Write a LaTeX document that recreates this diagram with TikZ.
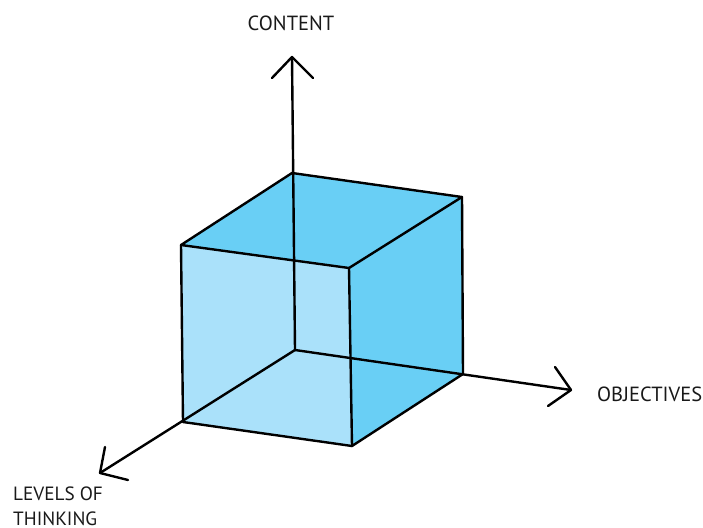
\documentclass[tikz,border=0pt]{standalone}
\usepackage{fontspec}
\setmainfont{PT Sans}
\definecolor{lightface}{HTML}{AAE1FA}
\definecolor{darkface}{HTML}{69CFF5}
\begin{document}
\begin{tikzpicture}[x=1pt,y=-1pt,
  edge/.style={line width=2.4pt,line cap=round,line join=round,black},
  lbl/.style={font=\fontsize{20.5}{29}\selectfont,inner sep=0pt,text=black!90},
  lblsmall/.style={font=\fontsize{19.2}{24.6}\selectfont,inner sep=0pt,text=black!90}]
\useasboundingbox (0,0) rectangle (703,527);
% cube vertices
\coordinate (ftl) at (181,245);
\coordinate (ftr) at (349,268);
\coordinate (fbr) at (352,446);
\coordinate (fbl) at (183,422);
\coordinate (btl) at (292,173);
\coordinate (btr) at (462,197);
\coordinate (bbr) at (463,374);
\coordinate (o) at (295,350);
% axis tips and arms
\coordinate (ct) at (292,57);
\coordinate (cl) at (272,78);
\coordinate (cr) at (313,78);
\coordinate (ot) at (571,390);
\coordinate (ou) at (555,367);
\coordinate (od) at (548,406);
\coordinate (lt) at (100,473);
\coordinate (lu) at (105,447);
\coordinate (lr) at (128,480);
% faces
\fill[darkface] (ftl) -- (btl) -- (btr) -- (ftr) -- cycle;
\fill[darkface] (ftr) -- (btr) -- (bbr) -- (fbr) -- cycle;
\fill[lightface] (ftl) -- (ftr) -- (fbr) -- (fbl) -- cycle;
% axes
\draw[edge] (o) -- (ct);
\draw[edge] (cl) -- (ct) -- (cr);
\draw[edge] (o) -- (ot);
\draw[edge] (ou) -- (ot) -- (od);
\draw[edge] (o) -- (lt);
\draw[edge] (lu) -- (lt) -- (lr);
% cube edges
\draw[edge] (ftl) -- (btl) -- (btr) -- (ftr) -- cycle;
\draw[edge] (btr) -- (bbr) -- (fbr) -- (ftr);
\draw[edge] (ftl) -- (fbl) -- (fbr);
% labels
\node[lbl,anchor=base] (content) at (291,31) {CONTENT};
\node[lbl,anchor=base west] (objectives) at (597,401) {OBJECTIVES};
\node[lblsmall,anchor=base west,align=left] (levels) at (13,525.3) {LEVELS OF\\THINKING};
\end{tikzpicture}
\end{document}
